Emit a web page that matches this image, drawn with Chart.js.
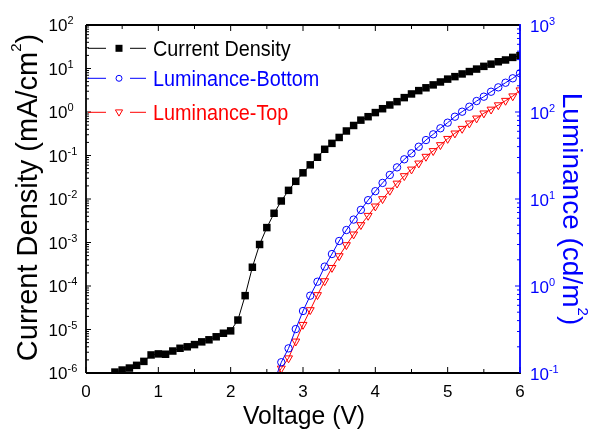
<!DOCTYPE html>
<html>
<head>
<meta charset="utf-8">
<script src="https://cdn.jsdelivr.net/npm/chart.js@4.4.1/dist/chart.umd.min.js"></script>
<style>
  body { margin: 0; background: white; }
  canvas { display: block; }
</style>
</head>
<body>
<canvas id="iv-chart" width="589" height="432"></canvas>
<script>
// J-V-L data
const voltage = [0.4, 0.5, 0.6, 0.7, 0.8, 0.9,
    1.0, 1.1, 1.2, 1.3, 1.4, 1.5, 1.6, 1.7, 1.8, 1.9,
    2.0, 2.1, 2.2, 2.3, 2.4, 2.5, 2.6, 2.7, 2.8, 2.9,
    3.0, 3.1, 3.2, 3.3, 3.4, 3.5, 3.6, 3.7, 3.8, 3.9,
    4.0, 4.1, 4.2, 4.3, 4.4, 4.5, 4.6, 4.7, 4.8, 4.9,
    5.0, 5.1, 5.2, 5.3, 5.4, 5.5, 5.6, 5.7, 5.8, 5.9, 6.0];
const current_density = [1.05e-6, 1.17e-6, 1.3e-6, 1.5e-6, 1.85e-6, 2.6e-6,
    2.75e-6, 2.7e-6, 3.2e-6, 3.7e-6, 4.0e-6, 4.5e-6, 5.2e-6, 5.8e-6, 6.8e-6, 8.2e-6,
    9.3e-6, 1.65e-5, 6.0e-5, 2.7e-4, 9.0e-4, 2.2e-3, 4.7e-3, 9.0e-3, 1.58e-2, 2.55e-2,
    0.040, 0.061, 0.091, 0.139, 0.19, 0.26, 0.366, 0.49, 0.65, 0.78,
    0.97, 1.19, 1.45, 1.73, 2.14, 2.6, 3.1, 3.6, 4.2, 4.9,
    5.7, 6.5, 7.5, 8.5, 9.7, 11.2, 12.6, 14.3, 15.7, 18.0, 19.7];

const lum_voltage = [2.6, 2.7, 2.8, 2.9,
    3.0, 3.1, 3.2, 3.3, 3.4, 3.5, 3.6, 3.7, 3.8, 3.9,
    4.0, 4.1, 4.2, 4.3, 4.4, 4.5, 4.6, 4.7, 4.8, 4.9,
    5.0, 5.1, 5.2, 5.3, 5.4, 5.5, 5.6, 5.7, 5.8, 5.9, 6.0];
const lum_bottom = [0.079, 0.133, 0.192, 0.32,
    0.516, 0.774, 1.12, 1.67, 2.33, 3.29, 4.4, 5.8, 7.5, 9.7,
    12.3, 15.3, 18.9, 23.1, 28.6, 33.5, 39.9, 47.6, 55.4, 65,
    75.4, 88.3, 100.8, 115, 133.7, 150, 171, 192, 217, 244, 279];
const lum_top = [0.085, 0.113, 0.148, 0.231,
    0.359, 0.53, 0.789, 1.14, 1.62, 2.21, 2.96, 3.93, 5.03, 6.43,
    8.24, 10.0, 12.5, 15.1, 18.4, 21.9, 25.7, 30.7, 35.7, 41.8,
    49.3, 56.9, 64.3, 74.1, 84.6, 96.7, 107, 120, 135, 152, 178];

// axis ticks
const x_ticks = [0, 1, 2, 3, 4, 5, 6];
const x_minor = [0.5, 1.5, 2.5, 3.5, 4.5, 5.5];
const left_exps = [-6, -5, -4, -3, -2, -1, 0, 1, 2];
const right_exps = [-1, 0, 1, 2, 3];

const series_names = ["Current Density", "Luminance-Bottom", "Luminance-Top"];

const BLUE = "#0000ff";
const RED = "#ff0000";
const FONT = "'Liberation Sans', Arial, sans-serif";

function to_points(xs, ys) {
    return xs.map((v, i) => ({ x: v, y: ys[i] }));
}

function draw_text(ctx, s, x, y, size, color, align, sx) {
    ctx.save();
    ctx.translate(x, y);
    ctx.scale(sx || 1, 1);
    ctx.font = size + "px " + FONT;
    ctx.fillStyle = color;
    ctx.textAlign = align;
    ctx.textBaseline = "alphabetic";
    ctx.fillText(s, 0, 0);
    ctx.restore();
}

function seg(ctx, x1, y1, x2, y2) {
    ctx.beginPath();
    ctx.moveTo(x1, y1);
    ctx.lineTo(x2, y2);
    ctx.stroke();
}

// power-of-ten label: "10" plus raised exponent
function pow_label(ctx, exp, x, y, color, left_side) {
    ctx.font = "17px " + FONT;
    let base_w = ctx.measureText("10").width;
    let bx = left_side ? x - base_w : x;
    draw_text(ctx, "10", bx, y + 6, 17, color, "left");
    draw_text(ctx, String(exp), bx + base_w, y - 0.8, 11, color, "left");
}

// rotated title with a superscript 2 before the closing bracket
function rotated_title(ctx, head, x, y, size, color, angle) {
    let sup = 15;
    ctx.save();
    ctx.translate(x, y);
    ctx.rotate(angle);
    ctx.font = size + "px " + FONT;
    let w1 = ctx.measureText(head).width;
    let w3 = ctx.measureText(")").width;
    ctx.font = sup + "px " + FONT;
    let w2 = ctx.measureText("2").width;
    let start = -(w1 + w2 + w3) / 2;
    let cap = size * 0.716;
    draw_text(ctx, head, start, 0, size, color, "left");
    draw_text(ctx, "2", start + w1, -cap - 6 + sup * 0.716, sup, color, "left");
    draw_text(ctx, ")", start + w1 + w2, 0, size, color, "left");
    ctx.restore();
}

function legend_marker(ctx, kind, x, y) {
    ctx.beginPath();
    if (kind == 0) {
        ctx.fillStyle = "black";
        ctx.fillRect(x - 3.5, y - 3.5, 7, 7);
        return;
    }
    ctx.lineWidth = 1;
    if (kind == 1) {
        ctx.strokeStyle = BLUE;
        ctx.arc(x, y, 3, 0, Math.PI * 2);
    } else {
        ctx.strokeStyle = RED;
        ctx.moveTo(x - 3.6, y - 2.4);
        ctx.lineTo(x + 3.6, y - 2.4);
        ctx.lineTo(x, y + 3.8);
        ctx.closePath();
    }
    ctx.stroke();
}

const frame_plugin = {
    id: "frame_plugin",
    afterDraw(chart) {
        const ctx = chart.ctx;
        const a = chart.chartArea;
        const sx = chart.scales.x;
        const sy = chart.scales.y;
        const sy2 = chart.scales.y2;
        ctx.save();

        // ticks
        ctx.lineWidth = 1;
        ctx.strokeStyle = "black";
        x_ticks.forEach(v => {
            let px = sx.getPixelForValue(v);
            seg(ctx, px, a.bottom, px, a.bottom - 6);
            seg(ctx, px, a.top, px, a.top + 6);
        });
        x_minor.forEach(v => {
            let px = sx.getPixelForValue(v);
            seg(ctx, px, a.bottom, px, a.bottom - 4);
            seg(ctx, px, a.top, px, a.top + 4);
        });
        left_exps.forEach(e => {
            let py = sy.getPixelForValue(Math.pow(10, e));
            seg(ctx, a.left, py, a.left + 5, py);
            if (e < left_exps[left_exps.length - 1]) {
                for (let m = 2; m <= 9; m++) {
                    let pm = sy.getPixelForValue(m * Math.pow(10, e));
                    seg(ctx, a.left, pm, a.left + 3, pm);
                }
            }
        });
        ctx.strokeStyle = BLUE;
        right_exps.forEach(e => {
            let py = sy2.getPixelForValue(Math.pow(10, e));
            seg(ctx, a.right, py, a.right - 5, py);
            if (e < right_exps[right_exps.length - 1]) {
                for (let m = 2; m <= 9; m++) {
                    let pm = sy2.getPixelForValue(m * Math.pow(10, e));
                    seg(ctx, a.right, pm, a.right - 3, pm);
                }
            }
        });

        // axis lines
        ctx.lineWidth = 1.8;
        ctx.strokeStyle = "black";
        seg(ctx, a.left, a.top, a.right, a.top);
        seg(ctx, a.left, a.bottom, a.right + 0.9, a.bottom);
        seg(ctx, a.left, a.top, a.left, a.bottom);
        ctx.strokeStyle = BLUE;
        seg(ctx, a.right, a.top - 0.9, a.right, a.bottom);

        // tick labels
        x_ticks.forEach(v => {
            draw_text(ctx, String(v), sx.getPixelForValue(v), 397, 17, "black", "center");
        });
        left_exps.forEach(e => {
            pow_label(ctx, e, 67.5, sy.getPixelForValue(Math.pow(10, e)), "black", true);
        });
        right_exps.forEach(e => {
            pow_label(ctx, e, 530, sy2.getPixelForValue(Math.pow(10, e)) + 1, BLUE, false);
        });

        // axis titles
        draw_text(ctx, "Voltage (V)", 304, 423.5, 26, "black", "center", 0.95);
        rotated_title(ctx, "Current Density (mA/cm", 37, 197.5, 29, "black", -Math.PI / 2);
        rotated_title(ctx, "Luminance (cd/m", 563, 209, 28, BLUE, Math.PI / 2);

        // legend
        const rows = [48.3, 78.3, 112.3];
        const colors = ["black", BLUE, RED];
        rows.forEach((ry, i) => {
            ctx.lineWidth = 1;
            ctx.strokeStyle = colors[i];
            seg(ctx, 88, ry, 106, ry);
            seg(ctx, 130, ry, 146, ry);
            legend_marker(ctx, i, 119, ry);
            draw_text(ctx, series_names[i], 153, ry + 7.9, 22, colors[i], "left", 0.9);
        });

        ctx.restore();
    }
};

new Chart(document.getElementById("iv-chart"), {
    type: "line",
    data: {
        datasets: [{
            label: series_names[0],
            data: to_points(voltage, current_density),
            yAxisID: "y",
            borderColor: "black",
            borderWidth: 1,
            backgroundColor: "black",
            pointStyle: "rect",
            pointRadius: 5.3,
            pointBorderWidth: 0
        }, {
            label: series_names[1],
            data: to_points(lum_voltage, lum_bottom),
            yAxisID: "y2",
            borderColor: BLUE,
            borderWidth: 1,
            backgroundColor: "rgba(0,0,0,0)",
            pointStyle: "circle",
            pointRadius: 3.7,
            pointBorderWidth: 1
        }, {
            label: series_names[2],
            data: to_points(lum_voltage, lum_top),
            yAxisID: "y2",
            borderColor: RED,
            borderWidth: 1,
            backgroundColor: "rgba(0,0,0,0)",
            pointStyle: "triangle",
            pointRotation: 180,
            pointRadius: 4.6,
            pointBorderWidth: 1
        }]
    },
    options: {
        responsive: false,
        animation: false,
        devicePixelRatio: 1,
        layout: { padding: { top: 25, left: 0, right: 0, bottom: 0 } },
        plugins: {
            legend: { display: false },
            tooltip: { enabled: false }
        },
        scales: {
            x: {
                type: "linear",
                min: 0,
                max: 6,
                ticks: { display: false },
                grid: { display: false },
                border: { display: false },
                afterFit: s => { s.height = 59; }
            },
            y: {
                type: "logarithmic",
                position: "left",
                min: 1e-6,
                max: 100,
                ticks: { display: false },
                grid: { display: false },
                border: { display: false },
                afterFit: s => { s.width = 86; }
            },
            y2: {
                type: "logarithmic",
                position: "right",
                min: 0.1,
                max: 1000,
                ticks: { display: false },
                grid: { display: false },
                border: { display: false },
                afterFit: s => { s.width = 69; }
            }
        }
    },
    plugins: [frame_plugin]
});
</script>
</body>
</html>
